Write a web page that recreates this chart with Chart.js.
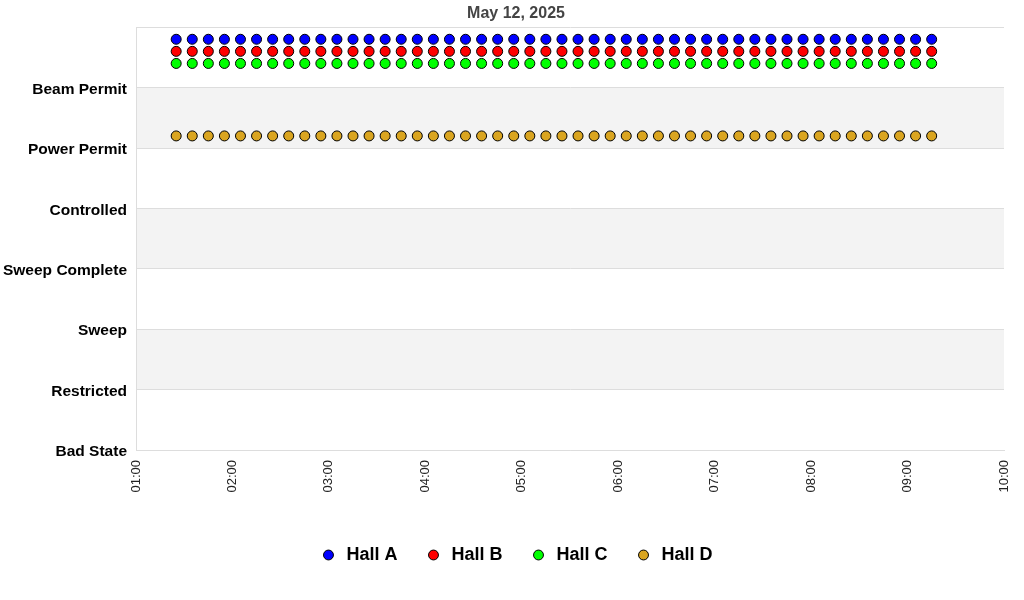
<!DOCTYPE html>
<html>
<head>
<meta charset="utf-8">
<script src="https://cdn.jsdelivr.net/npm/chart.js@4.4.1/dist/chart.umd.min.js"></script>
<style>
  html, body { margin: 0; padding: 0; background: #fff; }
  #wrap { width: 1024px; height: 600px; }
</style>
</head>
<body>
<div id="wrap"><canvas id="chart"></canvas></div>
<script>
// y categories, bottom to top
const stateLabels = ['Bad State', 'Restricted', 'Sweep', 'Sweep Complete', 'Controlled', 'Power Permit', 'Beam Permit'];

// sample times (every 10 min)
const times = [
  '01:25', '01:35', '01:45', '01:55', '02:05', '02:15', '02:25', '02:35', '02:45', '02:55',
  '03:05', '03:15', '03:25', '03:35', '03:45', '03:55', '04:05', '04:15', '04:25', '04:35',
  '04:45', '04:55', '05:05', '05:15', '05:25', '05:35', '05:45', '05:55', '06:05', '06:15',
  '06:25', '06:35', '06:45', '06:55', '07:05', '07:15', '07:25', '07:35', '07:45', '07:55',
  '08:05', '08:15', '08:25', '08:35', '08:45', '08:55', '09:05', '09:15'
];

// state values (offset a little above the state line so halls don't overlap)
const hallA = [
  6.8, 6.8, 6.8, 6.8, 6.8, 6.8, 6.8, 6.8, 6.8, 6.8, 6.8, 6.8, 6.8, 6.8, 6.8, 6.8,
  6.8, 6.8, 6.8, 6.8, 6.8, 6.8, 6.8, 6.8, 6.8, 6.8, 6.8, 6.8, 6.8, 6.8, 6.8, 6.8,
  6.8, 6.8, 6.8, 6.8, 6.8, 6.8, 6.8, 6.8, 6.8, 6.8, 6.8, 6.8, 6.8, 6.8, 6.8, 6.8
];
const hallB = [
  6.6, 6.6, 6.6, 6.6, 6.6, 6.6, 6.6, 6.6, 6.6, 6.6, 6.6, 6.6, 6.6, 6.6, 6.6, 6.6,
  6.6, 6.6, 6.6, 6.6, 6.6, 6.6, 6.6, 6.6, 6.6, 6.6, 6.6, 6.6, 6.6, 6.6, 6.6, 6.6,
  6.6, 6.6, 6.6, 6.6, 6.6, 6.6, 6.6, 6.6, 6.6, 6.6, 6.6, 6.6, 6.6, 6.6, 6.6, 6.6
];
const hallC = [
  6.4, 6.4, 6.4, 6.4, 6.4, 6.4, 6.4, 6.4, 6.4, 6.4, 6.4, 6.4, 6.4, 6.4, 6.4, 6.4,
  6.4, 6.4, 6.4, 6.4, 6.4, 6.4, 6.4, 6.4, 6.4, 6.4, 6.4, 6.4, 6.4, 6.4, 6.4, 6.4,
  6.4, 6.4, 6.4, 6.4, 6.4, 6.4, 6.4, 6.4, 6.4, 6.4, 6.4, 6.4, 6.4, 6.4, 6.4, 6.4
];
const hallD = [
  5.2, 5.2, 5.2, 5.2, 5.2, 5.2, 5.2, 5.2, 5.2, 5.2, 5.2, 5.2, 5.2, 5.2, 5.2, 5.2,
  5.2, 5.2, 5.2, 5.2, 5.2, 5.2, 5.2, 5.2, 5.2, 5.2, 5.2, 5.2, 5.2, 5.2, 5.2, 5.2,
  5.2, 5.2, 5.2, 5.2, 5.2, 5.2, 5.2, 5.2, 5.2, 5.2, 5.2, 5.2, 5.2, 5.2, 5.2, 5.2
];

const toMinutes = (t) => {
  const [h, m] = t.split(':').map(Number);
  return h * 60 + m;
};
const points = (vals) => times.map((t, i) => ({ x: toMinutes(t), y: vals[i] }));

// grey bands between every other state line
const bandPlugin = {
  id: 'bands',
  afterLayout(chart) {
    // let the long y labels run into the left padding instead of being clipped
    chart.scales.y.left = 0;
  },
  beforeDraw(chart) {
    const { ctx, chartArea, scales: { y } } = chart;
    ctx.save();
    ctx.fillStyle = '#f3f3f3';
    [1, 3, 5].forEach(v => {
      const top = y.getPixelForValue(v + 1);
      const bottom = y.getPixelForValue(v);
      ctx.fillRect(chartArea.left, top, chartArea.right - chartArea.left, bottom - top);
    });
    ctx.restore();
  }
};

const mkSet = (label, vals, color) => ({
  label,
  data: points(vals),
  showLine: false,
  backgroundColor: color,
  borderColor: '#000',
  borderWidth: 1,
  pointRadius: 5,
  pointHoverRadius: 5,
  pointStyle: 'circle'
});

new Chart(document.getElementById('chart'), {
  type: 'scatter',
  data: {
    datasets: [
      mkSet('Hall A', hallA, '#0000ff'),
      mkSet('Hall B', hallB, '#ff0000'),
      mkSet('Hall C', hallC, '#00ff00'),
      mkSet('Hall D', hallD, '#daa520')
    ]
  },
  options: {
    responsive: true,
    maintainAspectRatio: false,
    animation: false,
    layout: { padding: { left: 24, right: 16, top: 0, bottom: 26 } },
    scales: {
      x: {
        type: 'linear',
        min: 60,
        max: 600,
        afterFit: (s) => { s.height = 69; s.paddingRight = 20; },
        afterBuildTicks: (s) => {
          s.ticks = [];
          for (let v = 60; v <= 600; v += 60) s.ticks.push({ value: v });
        },
        grid: { display: false, drawTicks: false },
        border: { color: '#ddd' },
        ticks: {
          minRotation: 90,
          maxRotation: 90,
          padding: 10,
          color: '#222',
          font: { family: '"Liberation Sans", Arial, sans-serif', size: 13 },
          callback: (v) => String(Math.floor(v / 60)).padStart(2, '0') + ':00'
        }
      },
      y: {
        min: 0,
        max: 7,
        afterFit: (s) => { s.width = 112; },
        grid: { color: '#ddd', drawTicks: false },
        border: { color: '#ddd' },
        ticks: {
          stepSize: 1,
          padding: 9,
          labelOffset: 2,
          color: '#000',
          font: { family: '"Liberation Sans", Arial, sans-serif', size: 15.5, weight: 'bold' },
          callback: (v) => stateLabels[v] || ''
        }
      }
    },
    plugins: {
      title: {
        display: true,
        text: 'May 12, 2025',
        color: '#444',
        padding: { top: 4, bottom: 4 },
        font: { family: '"Liberation Sans", Arial, sans-serif', size: 16, weight: 'bold' }
      },
      legend: {
        position: 'bottom',
        labels: {
          usePointStyle: true,
          pointStyle: 'circle',
          boxWidth: 18,
          boxHeight: 7,
          padding: 27,
          color: '#000',
          font: { family: '"Liberation Sans", Arial, sans-serif', size: 18, weight: 'bold' }
        }
      },
      tooltip: { enabled: false }
    }
  },
  plugins: [bandPlugin]
});
</script>
</body>
</html>
